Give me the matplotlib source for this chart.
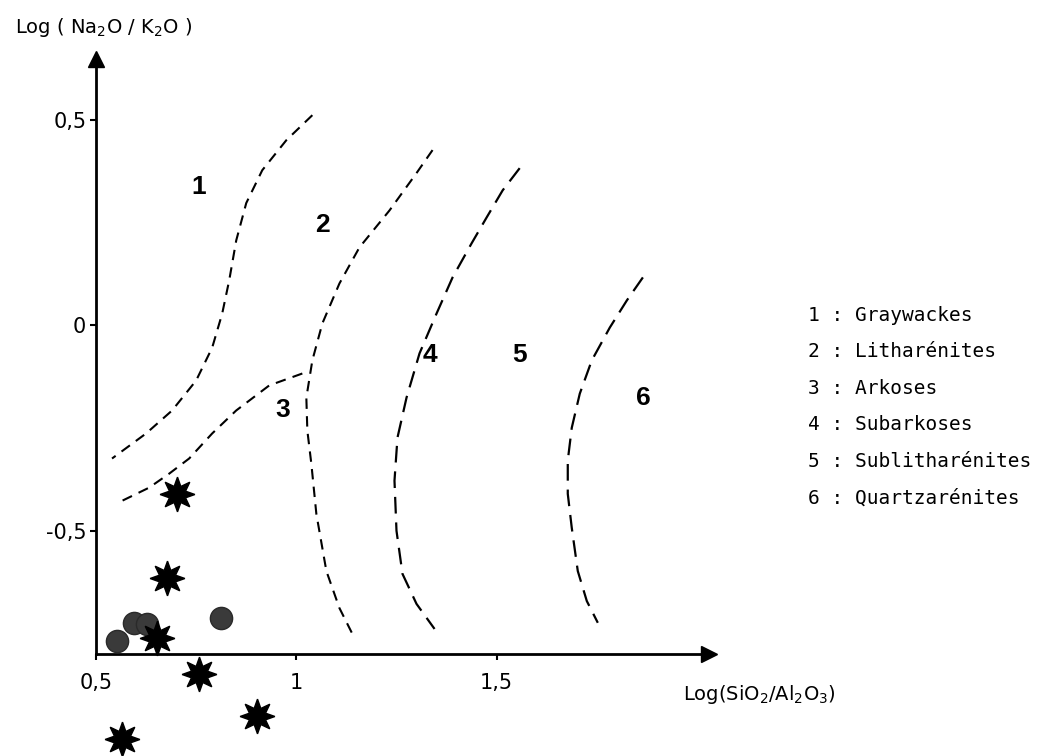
import matplotlib.pyplot as plt

# boundary curves (Log SiO2/Al2O3, Log Na2O/K2O)
curve1_x = [1.04, 0.975, 0.915, 0.875, 0.85, 0.8325, 0.815, 0.79, 0.75, 0.69, 0.625, 0.54]
curve1_y = [0.512, 0.451, 0.378, 0.298, 0.207, 0.110, 0.029, -0.054, -0.134, -0.207, -0.263, -0.324]

curve2_x = [1.34, 1.30, 1.2325, 1.1575, 1.1075, 1.065, 1.04, 1.025, 1.0275, 1.0375, 1.05, 1.075, 1.1075, 1.145]
curve2_y = [0.427, 0.371, 0.280, 0.190, 0.102, 0.005, -0.085, -0.176, -0.256, -0.337, -0.459, -0.598, -0.688, -0.761]

curve3_x = [1.015, 0.9325, 0.85, 0.79, 0.7325, 0.6825, 0.6325, 0.565]
curve3_y = [-0.117, -0.146, -0.207, -0.263, -0.324, -0.361, -0.395, -0.427]

curve4_x = [1.5575, 1.515, 1.475, 1.4375, 1.39, 1.35, 1.3075, 1.275, 1.2525, 1.245, 1.25, 1.265, 1.30, 1.345]
curve4_y = [0.383, 0.329, 0.263, 0.200, 0.117, 0.029, -0.068, -0.176, -0.273, -0.378, -0.5, -0.605, -0.678, -0.739]

curve5_x = [1.865, 1.825, 1.7825, 1.7375, 1.7075, 1.6875, 1.6775, 1.6775, 1.6875, 1.7025, 1.725, 1.7525]
curve5_y = [0.117, 0.061, -0.005, -0.085, -0.166, -0.249, -0.329, -0.410, -0.493, -0.598, -0.671, -0.724]

# samples
star_x = [0.7025, 0.6775, 0.6525, 0.7575, 0.9025, 0.565]
star_y = [-0.410, -0.615, -0.761, -0.849, -0.951, -1.007]
circle_x = [0.5525, 0.595, 0.6275, 0.8125]
circle_y = [-0.768, -0.724, -0.727, -0.712]

# field numbers
field_labels = ['1', '2', '3', '4', '5', '6']
field_x = [0.7575, 1.065, 0.965, 1.3325, 1.5575, 1.865]
field_y = [0.337, 0.244, -0.207, -0.073, -0.073, -0.176]

legend_lines = ['1 : Graywackes', '2 : Litharénites', '3 : Arkoses',
                '4 : Subarkoses', '5 : Sublitharénites', '6 : Quartzarénites']

xticks = [0.5, 1, 1.5]
xtick_labels = ['0,5', '1', '1,5']
yticks = [0.5, 0, -0.5]
ytick_labels = ['0,5', '0', '-0,5']

W, H = 1062, 756
fig = plt.figure(figsize=(W / 100, H / 100), dpi=100)
ax = fig.add_axes([96 / W, (H - 654) / H, 613 / W, (654 - 58.5) / H])
ax.set_xlim(0.5, 2.03)
ax.set_ylim(-0.8, 0.65)

for s in ['top', 'right']:
    ax.spines[s].set_visible(False)
for s in ['left', 'bottom']:
    ax.spines[s].set_linewidth(2)

# arrow heads
ax.plot(1, 0, '>k', ms=11, transform=ax.transAxes, clip_on=False)
ax.plot(0, 1, '^k', ms=11, transform=ax.transAxes, clip_on=False)

ax.set_xticks(xticks)
ax.set_xticklabels(xtick_labels)
ax.set_yticks(yticks)
ax.set_yticklabels(ytick_labels)
ax.tick_params(axis='both', length=4, width=1.5, labelsize=15)
ax.tick_params(axis='x', pad=10)
ax.tick_params(axis='y', pad=3)

# boundaries
short = dict(color='k', lw=1.5, dashes=(5, 3.5))
long_ = dict(color='k', lw=1.6, dashes=(7.5, 4))
ax.plot(curve1_x, curve1_y, **short)
ax.plot(curve2_x, curve2_y, **short)
ax.plot(curve3_x, curve3_y, **short)
ax.plot(curve4_x, curve4_y, **long_)
ax.plot(curve5_x, curve5_y, **long_)

for lab, x, y in zip(field_labels, field_x, field_y):
    ax.text(x, y, lab, fontsize=19, fontweight='bold', family='Liberation Sans',
            ha='center', va='center')

ax.plot(circle_x, circle_y, 'o', color='#3a3a3a', ms=16, mec='#2a2a2a', clip_on=False, zorder=3)
ax.plot(star_x, star_y, marker=(8, 1, 0), ls='none', color='k', ms=25, clip_on=False, zorder=4)

fig.text(15 / W, 1 - 33 / H, 'Log ( Na$_2$O / K$_2$O )', fontsize=14, va='baseline')
fig.text(683 / W, 1 - 700 / H, 'Log(SiO$_2$/Al$_2$O$_3$)', fontsize=14, va='baseline')

for i, line in enumerate(legend_lines):
    py = 315 + i * 36.6
    fig.text(808 / W, 1 - py / H, line, family='DejaVu Sans Mono', fontsize=14, va='center')

fig.savefig('out.png', dpi=100)
